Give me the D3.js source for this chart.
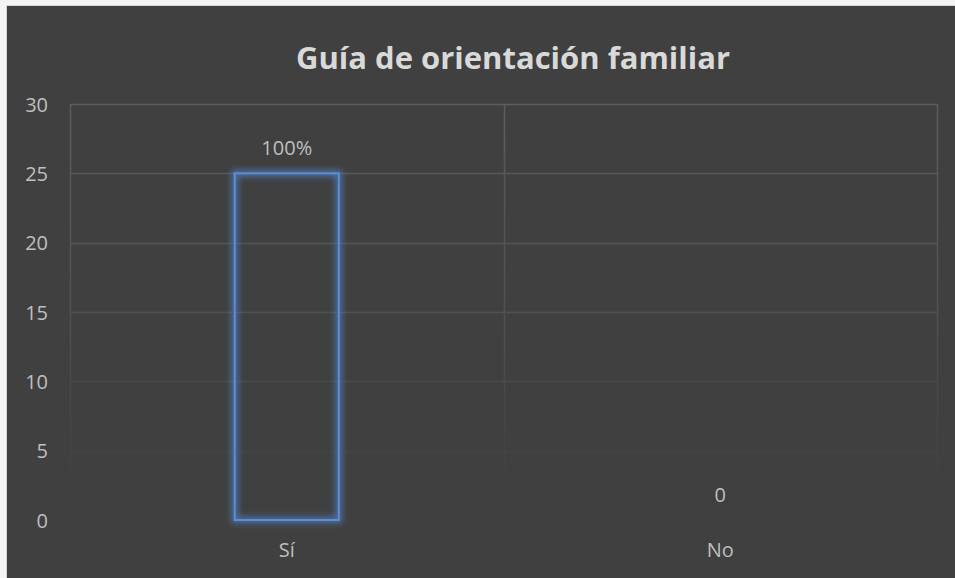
<!DOCTYPE html>
<html>
<head>
<meta charset="utf-8">
<script src="https://cdn.jsdelivr.net/npm/d3@7"></script>
<style>
  html, body { margin: 0; padding: 0; background: #ffffff; }
  svg { display: block; }
</style>
</head>
<body>
<svg id="chart" width="955" height="578"></svg>
<script>
const title = "Guía de orientación familiar";
const categories = ["Sí", "No"];
const values = [25, 0];
const dataLabels = ["100%", "0"];
const yTicks = [0, 5, 10, 15, 20, 25, 30];

const W = 955, H = 578;
const svg = d3.select("#chart");
const font = "'Open Sans', Lato, sans-serif";

// frame
svg.append("rect").attr("x", 0).attr("y", 0).attr("width", W).attr("height", H).attr("fill", "#f4f4f4");
svg.append("rect").attr("x", 6.5).attr("y", 5.5).attr("width", W).attr("height", H)
  .attr("fill", "#404040").attr("stroke", "#d6d6d6").attr("stroke-width", 1);

const plot = { left: 70, right: 937, top: 104, bottom: 520 };
const x = d3.scaleBand().domain(categories).range([plot.left, plot.right]).padding(0);
const y = d3.scaleLinear().domain([0, 30]).range([plot.bottom, plot.top]);

const defs = svg.append("defs");
const grad = defs.append("linearGradient").attr("id", "gridGrad")
  .attr("gradientUnits", "userSpaceOnUse")
  .attr("x1", 0).attr("y1", plot.top).attr("x2", 0).attr("y2", 490);
grad.append("stop").attr("offset", "0%").attr("stop-color", "#5e5e5e");
grad.append("stop").attr("offset", "55%").attr("stop-color", "#505050");
grad.append("stop").attr("offset", "100%").attr("stop-color", "#404040");

const glow = defs.append("filter").attr("id", "glow").attr("x", "-40%").attr("y", "-20%").attr("width", "180%").attr("height", "140%");
glow.append("feGaussianBlur").attr("in", "SourceGraphic").attr("stdDeviation", 3);

// horizontal gridlines
svg.append("g").selectAll("line").data(yTicks.filter(d => d > 0)).join("line")
  .attr("x1", plot.left).attr("x2", plot.right)
  .attr("y1", d => Math.round(y(d)) + 0.5).attr("y2", d => Math.round(y(d)) + 0.5)
  .attr("stroke", "url(#gridGrad)").attr("stroke-width", 1.5);

// vertical category separators
const vx = [plot.left, ...categories.slice(1).map(c => x(c)), plot.right];
svg.append("g").selectAll("line").data(vx).join("line")
  .attr("x1", d => Math.round(d) + 0.5).attr("x2", d => Math.round(d) + 0.5)
  .attr("y1", plot.top).attr("y2", plot.bottom)
  .attr("stroke", "url(#gridGrad)").attr("stroke-width", 1.5);

// y axis
const yAxis = d3.axisLeft(y).tickValues(yTicks).tickSize(0).tickPadding(0);
const gy = svg.append("g").attr("transform", `translate(48,0)`).call(yAxis);
gy.select(".domain").remove();
gy.selectAll("text").attr("fill", "#bfbfbf").style("font-family", font).style("font-size", "20px")
  .attr("dy", "0.35em").attr("text-anchor", "end");

// x axis labels
const xAxis = d3.axisBottom(x).tickSize(0).tickPadding(0);
const gx = svg.append("g").attr("transform", `translate(0,${plot.bottom})`).call(xAxis);
gx.select(".domain").remove();
gx.selectAll("text").attr("fill", "#bfbfbf").style("font-family", font).style("font-size", "20px")
  .attr("dy", 0).attr("y", 37);

// bars
const bw = x.bandwidth() * 0.24;
const bars = svg.append("g");
const barX = (d, i) => x(categories[i]) + x.bandwidth() / 2 - bw / 2;
bars.selectAll("rect.glow").data(values).join("rect").attr("class", "glow")
  .attr("x", barX).attr("y", d => y(d)).attr("width", bw).attr("height", d => y(0) - y(d))
  .attr("fill", "none")
  .attr("stroke", d => d > 0 ? "#4f86d0" : "none")
  .attr("stroke-width", 6).attr("stroke-opacity", 0.75)
  .attr("filter", "url(#glow)");
bars.selectAll("rect.bar").data(values).join("rect").attr("class", "bar")
  .attr("x", barX).attr("y", d => y(d)).attr("width", bw).attr("height", d => y(0) - y(d))
  .attr("fill", "none")
  .attr("stroke", d => d > 0 ? "#5b8ed6" : "none")
  .attr("stroke-width", 2);

// data labels
svg.append("g").selectAll("text").data(values).join("text")
  .attr("x", (d, i) => x(categories[i]) + x.bandwidth() / 2)
  .attr("y", d => y(d) - 18)
  .attr("text-anchor", "middle")
  .attr("fill", "#bfbfbf").style("font-family", font).style("font-size", "20px")
  .text((d, i) => dataLabels[i]);

// title
svg.append("text").attr("x", 513).attr("y", 69).attr("text-anchor", "middle")
  .attr("fill", "#d9d9d9").style("font-family", font).style("font-weight", "bold").style("font-size", "31px")
  .text(title);
</script>
</body>
</html>
